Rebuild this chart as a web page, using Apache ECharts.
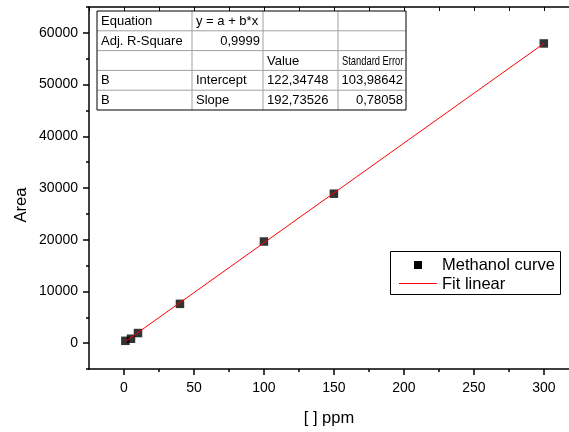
<!DOCTYPE html>
<html>
<head>
<meta charset="utf-8">
<script src="https://cdn.jsdelivr.net/npm/echarts@6/dist/echarts.min.js"></script>
<style>html,body{margin:0;padding:0;background:#fff}#c{width:569px;height:432px}</style>
</head>
<body>
<div id="c"></div>
<script>
// Data
var concPpm = [1, 5, 10, 40, 100, 150, 300];
var areaVals = [450, 850, 1950, 7600, 19650, 28900, 57950];
var fitX = [1, 300];
var fitY = [315, 57943];
var seriesNames = ['Methanol curve', 'Fit linear'];
var xTickLabels = [0, 50, 100, 150, 200, 250, 300];
var yTickLabels = [0, 10000, 20000, 30000, 40000, 50000, 60000];
var tableRows = [
  ['Equation', 'y = a + b*x', '', ''],
  ['Adj. R-Square', '0,9999', '', ''],
  ['', '', 'Value', 'Standard Error'],
  ['B', 'Intercept', '122,34748', '103,98642'],
  ['B', 'Slope', '192,73526', '0,78058']
];
var tableAlign = [
  ['left', 'left', 'left', 'left'],
  ['left', 'right', 'left', 'left'],
  ['left', 'left', 'left', 'left'],
  ['left', 'left', 'left', 'right'],
  ['left', 'left', 'left', 'right']
];

var FONT = 'Liberation Sans, Arial, sans-serif';
var chart = echarts.init(document.getElementById('c'), null, {renderer: 'canvas'});

// table graphics
var colX = [97, 192, 263, 338, 406];
var rowTop = 11, rowH = 19.8;
var g = [];
for (var r = 1; r < 5; r++) {
  g.push({type: 'line', shape: {x1: colX[0], y1: rowTop + r * rowH, x2: colX[4], y2: rowTop + r * rowH}, style: {stroke: '#a0a0a0', lineWidth: 1}, z: 10});
}
for (var c = 1; c < 4; c++) {
  g.push({type: 'line', shape: {x1: colX[c], y1: rowTop, x2: colX[c], y2: rowTop + 5 * rowH}, style: {stroke: '#a0a0a0', lineWidth: 1}, z: 10});
}
g.push({type: 'rect', shape: {x: colX[0], y: rowTop, width: colX[4] - colX[0], height: 5 * rowH}, style: {fill: 'none', stroke: '#000', lineWidth: 1}, z: 11});
for (var r = 0; r < 5; r++) {
  for (var c = 0; c < 4; c++) {
    var t = tableRows[r][c];
    if (!t) continue;
    var al = tableAlign[r][c];
    var el = {type: 'text', z: 12,
      x: al === 'left' ? colX[c] + 4 : colX[c + 1] - 3,
      y: rowTop + r * rowH + rowH / 2 + 0.5,
      style: {text: t, font: '13px ' + FONT, fill: '#000', align: al, verticalAlign: 'middle'}};
    if (t.length > 12 && c === 3) { el.scaleX = 0.72; }
    g.push(el);
  }
}
// legend box
g.push({type: 'rect', shape: {x: 390.5, y: 251.5, width: 170, height: 43}, style: {fill: '#fff', stroke: '#000', lineWidth: 1}, z: 20});
g.push({type: 'rect', shape: {x: 414, y: 261, width: 8, height: 8}, style: {fill: '#000'}, z: 21});
g.push({type: 'line', shape: {x1: 399, y1: 283.5, x2: 437, y2: 283.5}, style: {stroke: '#ff0000', lineWidth: 1}, z: 21});
g.push({type: 'text', x: 442, y: 265.5, style: {text: seriesNames[0], font: '16.5px ' + FONT, fill: '#000', verticalAlign: 'middle'}, z: 21});
g.push({type: 'text', x: 442, y: 284, style: {text: seriesNames[1], font: '16.5px ' + FONT, fill: '#000', verticalAlign: 'middle'}, z: 21});
// y axis title
g.push({type: 'text', x: 21, y: 205, rotation: Math.PI / 2, style: {text: 'Area', font: '16.5px ' + FONT, fill: '#000', align: 'center', verticalAlign: 'middle'}});

var xLabelFmt = function (v) { return (xTickLabels.indexOf(v) >= 0) ? String(v) : ''; };
var yLabelFmt = function (v) { return (yTickLabels.indexOf(v) >= 0) ? String(v) : ''; };
var XMIN = -25, XMAX = 318, YMIN = -5000, YMAX = 65000;

chart.setOption({
  animation: false,
  backgroundColor: '#fff',
  grid: {left: 89, top: 7, right: 0, bottom: 59, containLabel: false},
  xAxis: [{
    type: 'value', min: XMIN, max: XMAX, interval: 25,
    name: '[ ] ppm', nameLocation: 'middle', nameGap: 41,
    nameTextStyle: {fontFamily: FONT, fontSize: 16.5, color: '#000'},
    axisLine: {show: true, onZero: false, lineStyle: {color: '#000', width: 1.5}},
    axisTick: {show: true, inside: false, length: 3, lineStyle: {color: '#000', width: 1.5}},
    axisLabel: {formatter: xLabelFmt, fontFamily: FONT, fontSize: 14, color: '#000', margin: 12, showMinLabel: false, showMaxLabel: false},
    splitLine: {show: false}
  }, {
    type: 'value', position: 'bottom', min: XMIN, max: XMAX,
    axisLine: {show: false, onZero: false},
    axisTick: {show: true, inside: false, length: 6, customValues: xTickLabels, lineStyle: {color: '#000', width: 1.5}},
    axisLabel: {show: false},
    splitLine: {show: false}
  }, {
    type: 'value', position: 'top', min: XMIN, max: XMAX, interval: 25,
    axisLine: {show: true, onZero: false, lineStyle: {color: '#000', width: 1.5}},
    axisTick: {show: true, inside: true, length: 4, lineStyle: {color: '#000', width: 1}},
    axisLabel: {show: false},
    splitLine: {show: false}
  }],
  yAxis: [{
    type: 'value', min: YMIN, max: YMAX, interval: 5000,
    axisLine: {show: true, onZero: false, lineStyle: {color: '#000', width: 1.5}},
    axisTick: {show: true, inside: false, length: 3, lineStyle: {color: '#000', width: 1.5}},
    axisLabel: {formatter: yLabelFmt, fontFamily: FONT, fontSize: 14, color: '#000', margin: 11},
    splitLine: {show: false}
  }, {
    type: 'value', position: 'left', min: YMIN, max: YMAX,
    axisLine: {show: false, onZero: false},
    axisTick: {show: true, inside: false, length: 6, customValues: yTickLabels, lineStyle: {color: '#000', width: 1.5}},
    axisLabel: {show: false},
    splitLine: {show: false}
  }],
  series: [{
    name: seriesNames[0], type: 'scatter', symbol: 'rect', symbolSize: 8.5,
    itemStyle: {color: '#000'},
    data: concPpm.map(function (x, i) { return [x, areaVals[i]]; }),
    z: 5
  }, {
    name: seriesNames[1], type: 'line', showSymbol: false, symbol: 'none',
    lineStyle: {color: '#ff0000', width: 1},
    data: fitX.map(function (x, i) { return [x, fitY[i]]; }),
    z: 6
  }],
  graphic: g
});
</script>
</body>
</html>
